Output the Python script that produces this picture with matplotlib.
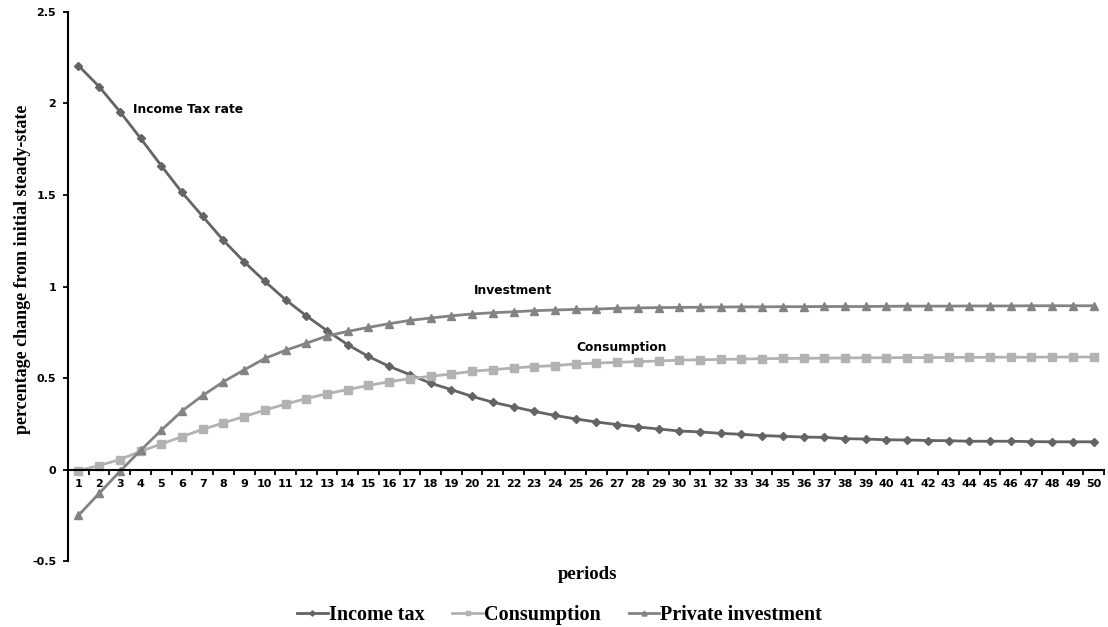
import numpy as np
import matplotlib.pyplot as plt

# ---- data ----
periods = np.arange(1, 51)

income_tax = [2.207, 2.092, 1.956, 1.81, 1.66, 1.514, 1.383, 1.252, 1.135, 1.028,
              0.928, 0.84, 0.759, 0.682, 0.618, 0.564, 0.519, 0.472, 0.437, 0.40,
              0.368, 0.343, 0.318, 0.296, 0.277, 0.26, 0.246, 0.233, 0.222, 0.211,
              0.206, 0.198, 0.193, 0.186, 0.182, 0.178, 0.176, 0.169, 0.167, 0.163,
              0.162, 0.159, 0.158, 0.155, 0.155, 0.155, 0.153, 0.152, 0.152, 0.152]

consumption = [-0.005, 0.022, 0.055, 0.10, 0.14, 0.18, 0.22, 0.255, 0.29, 0.325,
               0.358, 0.388, 0.415, 0.437, 0.46, 0.48, 0.497, 0.51, 0.522, 0.537,
               0.546, 0.555, 0.563, 0.568, 0.577, 0.582, 0.586, 0.59, 0.593, 0.598,
               0.6, 0.602, 0.604, 0.606, 0.607, 0.608, 0.609, 0.61, 0.611, 0.611,
               0.612, 0.612, 0.613, 0.613, 0.614, 0.614, 0.614, 0.615, 0.615, 0.615]

investment = [-0.25, -0.13, -0.01, 0.105, 0.215, 0.32, 0.405, 0.48, 0.545, 0.607,
              0.652, 0.69, 0.73, 0.755, 0.777, 0.797, 0.815, 0.828, 0.84, 0.85,
              0.857, 0.862, 0.868, 0.872, 0.875, 0.877, 0.881, 0.883, 0.885, 0.886,
              0.887, 0.888, 0.889, 0.889, 0.89, 0.89, 0.891, 0.891, 0.891, 0.892,
              0.893, 0.893, 0.893, 0.894, 0.894, 0.894, 0.895, 0.895, 0.895, 0.895]

y_ticks = [-0.5, 0, 0.5, 1, 1.5, 2, 2.5]
y_tick_labels = ['-0.5', '0', '0.5', '1', '1.5', '2', '2.5']

c_tax = '#646464'
c_cons = '#b2b2b2'
c_inv = '#838383'

# tick labels and notes: bold sans
plt.rcParams['font.family'] = 'DejaVu Sans'
plt.rcParams['font.weight'] = 'bold'
plt.rcParams['font.size'] = 8

fig = plt.figure(figsize=(11.08, 6.27), dpi=100)
ax = fig.add_axes([0.0614, 0.105, 0.935, 0.876])

l1, = ax.plot(periods, income_tax, color=c_tax, marker='D', markersize=4.5, linewidth=2,
              label='Income tax')
l2, = ax.plot(periods, consumption, color=c_cons, marker='s', markersize=5.5, linewidth=2,
              label='Consumption')
l3, = ax.plot(periods, investment, color=c_inv, marker='^', markersize=6, linewidth=2,
              label='Private investment')

ax.set_xlim(0.5, 50.5)
ax.set_ylim(-0.5, 2.5)

# category style axis: ticks between categories, labels centred on the points
ax.set_xticks(np.arange(0.5, 51, 1))
ax.set_xticklabels([])
ax.set_xticks(periods, minor=True)
ax.set_xticklabels([str(p) for p in periods], minor=True)
ax.tick_params(axis='x', which='major', direction='out', length=3.6, width=1.3)
ax.tick_params(axis='x', which='minor', length=0, pad=7)

ax.set_yticks(y_ticks)
ax.set_yticklabels(y_tick_labels)
ax.tick_params(axis='y', direction='out', length=3.6, width=1.3, pad=5)

ax.spines['top'].set_visible(False)
ax.spines['right'].set_visible(False)
ax.spines['bottom'].set_position(('data', 0))
ax.spines['bottom'].set_linewidth(1.5)
ax.spines['left'].set_linewidth(1.5)

ax.set_ylabel('percentage change from initial steady-state', family='Liberation Serif',
              fontsize=13, fontweight='bold')
ax.yaxis.set_label_coords(-0.036, 0.532)
fig.text(0.53, 0.083, 'periods', family='Liberation Serif', fontsize=13.5,
         fontweight='bold', ha='center', va='center')

ax.text(3.64, 1.965, 'Income Tax rate', va='center', fontsize=8.8)
ax.text(21.97, 0.977, 'Investment', ha='center', va='center', fontsize=8.8)
ax.text(27.2, 0.666, 'Consumption', ha='center', va='center', fontsize=8.8)

fig.legend(handles=[l1, l2, l3], loc='center', bbox_to_anchor=(0.505, 0.019), ncol=3,
           frameon=False, handlelength=1.5, handletextpad=0.05, columnspacing=1.4,
           markerscale=0.6, prop={'family': 'Liberation Serif', 'size': 14.5,
                                  'weight': 'bold'})

fig.savefig('out.png', dpi=100)
